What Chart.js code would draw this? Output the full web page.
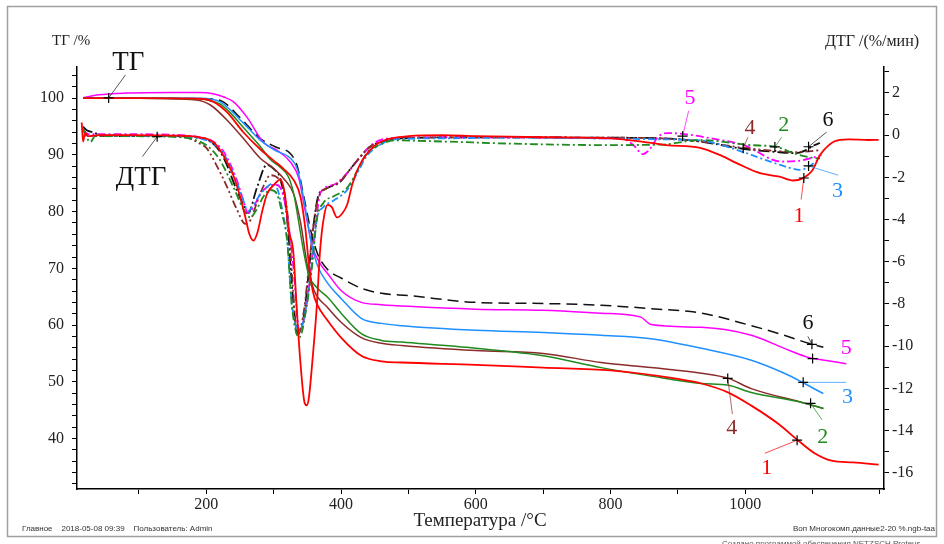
<!DOCTYPE html>
<html><head><meta charset="utf-8">
<script src="https://cdn.jsdelivr.net/npm/chart.js@4.4.1/dist/chart.umd.min.js"></script>
<style>html,body{margin:0;padding:0;background:#fff}#wrap{width:944px;height:544px;position:relative}</style>
</head><body><div id="wrap"><canvas id="c" width="944" height="544"></canvas></div>
<script>
// ---- TG (left axis, %) ----
const tgT1 = [17,100,190,210,231,255,280,300,315,330,340,347,352,358,365,380,400,430,460,490,600,700,800,900,935,975,1009,1049,1079,1103,1128,1160,1198];
const tgV1 = [100,100,99.9,99.4,97.5,94.0,91.0,89.0,87.5,85.5,82.5,77,71,66,63.5,60.8,57.8,54.6,53.6,53.4,53.0,52.5,52.0,50.5,49.7,48.1,45.8,42.6,39.6,37.4,36.1,35.8,35.4];
const tgT2 = [17,100,190,205,220,235,250,265,280,295,310,322,330,335,345,352,365,380,400,430,460,490,600,700,786,860,935,975,1009,1083,1116];
const tgV2 = [100,100,99.9,99.6,99.0,97.5,95.5,93.5,91.5,89.2,87.8,86.1,83,79.7,72.6,68.8,66.5,64.9,62.1,58.5,57.3,57.0,55.9,54.6,52.5,51.0,49.7,49.4,48.1,46.4,45.3];
const tgT3 = [17,100,190,220,235,250,265,280,302,325,335,345,355,365,380,400,430,460,490,600,700,786,860,935,1009,1058,1088,1116];
const tgV3 = [100.1,100.1,100,99.4,98,96.2,94.4,92.6,90.8,89.4,87.5,82,75,70.5,67.4,64.7,61.2,60.3,59.9,59.1,58.7,58.2,57.6,55.9,53.8,51.5,49.7,47.9];
const tgT4 = [17,100,185,206,235,260,280,300,315,330,340,350,360,380,400,430,460,490,600,700,786,860,935,975,1009,1083,1116];
const tgV4 = [100,100,99.7,98.8,95.6,92.2,89.4,87.6,85.8,83.0,78,70.5,66.1,63.1,60.5,57.8,56.8,56.4,55.5,55.0,53.4,52.5,51.5,50.6,48.8,46.4,45.3];
const tgT5 = [17,40,80,150,190,210,226,240,260,285,305,325,337,347,357,368,380,400,430,460,500,600,700,786,845,860,935,1009,1058,1094,1118,1150];
const tgV5 = [100.1,100.6,100.9,101.0,101.0,100.8,100.2,99.4,96.7,92.2,90.8,88.7,86,80,74,71,69.1,66.1,64.0,63.6,63.3,62.8,62.6,62.1,61.4,60.1,59.6,58.2,55.9,54.3,53.8,53.2];
const tgT6 = [17,100,200,221,250,280,303,325,335,345,355,365,380,400,430,460,500,600,700,786,860,935,1009,1058,1094,1116];
const tgV6 = [100,100,99.9,99.6,96.6,92.9,91.4,90.2,88,82.5,76.7,72.6,69.8,68.3,66.5,65.6,65.2,64.0,63.8,63.5,62.9,62.1,59.9,58.2,56.8,56.1];

// ---- DTG (right axis, %/min) ----
const dtgT1 = [15,17,20,25,40,80,150,190,211,226,240,250,258,264,270,276,283,290,302,310,317,322,329,334,339,346,349,352,358,364,369,375,380,386,394,402,409,417,428,448,468,500,550,600,700,800,860,883,933,963,992,1022,1051,1071,1085,1100,1110,1117,1132,1153,1183,1198];
const dtgV1 = [0.6,-0.3,0.1,-0.05,0,0,-0.02,-0.1,-0.35,-1.0,-1.9,-2.9,-3.9,-4.7,-5.0,-4.6,-3.6,-2.8,-2.3,-2.1,-2.9,-4.5,-5.5,-8.1,-10.5,-12.7,-12.8,-12.5,-10.5,-8.1,-5.4,-3.8,-3.3,-3.4,-3.9,-3.7,-3.3,-2.3,-1.4,-0.55,-0.2,-0.05,0.0,-0.05,-0.1,-0.15,-0.37,-0.47,-0.6,-0.95,-1.4,-1.8,-1.97,-2.15,-2.05,-1.65,-1.0,-0.7,-0.3,-0.2,-0.23,-0.22];
const dtgT2 = [17,22,28,35,80,150,190,205,220,240,255,265,275,285,295,305,313,320,327,338,349,357,364,374,389,409,424,438,458,480,550,650,786,875,933,1007,1047,1071,1101,1111];
const dtgV2 = [0.3,-0.1,-0.32,-0.05,-0.05,-0.08,-0.3,-0.6,-1.17,-2.45,-3.5,-3.9,-3.5,-2.9,-2.6,-2.8,-3.8,-5.0,-8.1,-9.6,-8.1,-6.2,-4.0,-3.2,-2.9,-2.5,-1.7,-0.85,-0.45,-0.25,-0.3,-0.4,-0.47,-0.45,-0.23,-0.47,-0.56,-0.85,-1.08,-1.1];
const dtgT3 = [17,25,40,100,150,190,210,226,245,255,262,270,280,290,298,306,313,320,327,338,349,357,364,374,389,409,424,438,458,480,550,650,786,875,933,997,1032,1066,1081,1096,1111];
const dtgV3 = [0.2,-0.05,0,-0.03,-0.05,-0.15,-0.4,-0.9,-2.2,-3.1,-3.6,-3.3,-2.8,-2.45,-2.3,-2.6,-3.6,-5.0,-8.0,-9.3,-8.0,-6.0,-4.0,-3.4,-3.1,-2.6,-1.8,-1.0,-0.45,-0.2,-0.15,-0.12,-0.15,-0.2,-0.25,-0.8,-1.2,-1.55,-1.65,-1.46,-1.08];
const dtgT4 = [17,25,60,150,175,190,200,213,230,245,258,266,275,285,295,305,315,322,328,335,345,352,359,366,380,399,409,424,443,463,490,600,786,875,933,997,1047,1076,1101,1111];
const dtgV4 = [0.3,-0.05,-0.03,-0.05,-0.15,-0.4,-0.6,-1.3,-2.4,-3.5,-4.2,-4.0,-3.2,-2.4,-1.9,-2.0,-2.6,-4.2,-7.0,-9.5,-8.3,-6.3,-4.3,-3.0,-2.5,-2.2,-1.8,-1.2,-0.55,-0.3,-0.15,-0.1,-0.12,-0.15,-0.3,-0.6,-0.75,-0.8,-0.75,-0.7];
const dtgT5 = [17,25,60,150,190,210,226,245,255,262,270,282,294,302,310,318,325,330,338,349,357,364,369,389,409,428,448,470,550,650,786,820,835,848,860,870,885,910,940,1000,1053,1083,1113];
const dtgV5 = [0.25,0.05,0.05,0.02,-0.1,-0.3,-0.8,-2.1,-3.1,-3.7,-3.4,-2.7,-2.4,-2.35,-2.5,-3.4,-5.0,-6.5,-9.3,-8.0,-5.8,-3.8,-2.75,-2.35,-1.8,-1.05,-0.4,-0.15,-0.1,-0.1,-0.15,-0.2,-0.5,-0.9,-0.6,-0.1,0.1,0.05,-0.1,-0.5,-1.25,-1.2,-0.95];
const dtgT6 = [17,22,30,50,150,190,210,226,245,255,262,275,290,300,310,320,328,336,345,352,359,366,374,399,409,424,443,463,488,600,786,875,933,997,1047,1076,1091,1101,1111];
const dtgV6 = [0.4,0.25,0.15,-0.03,-0.05,-0.12,-0.4,-1.1,-2.6,-3.3,-3.7,-2.5,-1.4,-1.6,-2.1,-4.0,-7.5,-9.4,-8.5,-6.5,-4.3,-2.9,-2.6,-2.2,-1.8,-1.2,-0.55,-0.3,-0.15,-0.1,-0.12,-0.15,-0.3,-0.65,-0.8,-0.85,-0.7,-0.5,-0.37];

// ---- axis ticks and tick labels ----
const xTicks = [100,200,300,400,500,600,700,800,900,1000,1100,1200];
const xTickLabels = [200,400,600,800,1000];
const yLeftTicks = [32,34,36,38,40,42,44,46,48,50,52,54,56,58,60,62,64,66,68,70,72,74,76,78,80,82,84,86,88,90,92,94,96,98,100,102,104];
const yLeftTickLabels = [40,50,60,70,80,90,100];
const yRightTicks = [-16,-15,-14,-13,-12,-11,-10,-9,-8,-7,-6,-5,-4,-3,-2,-1,0,1,2,3];
const yRightTickLabels = [-16,-14,-12,-10,-8,-6,-4,-2,0,2];

const COL = {r:'#ff0000', g:'#1f8a1f', b:'#1e90ff', br:'#8b2b2b', m:'#ff00ff', k:'#111111'};
const SERIF = "'Liberation Serif','DejaVu Serif',serif";

function pts(T, V){ return T.map((t,i)=>({x:t, y:V[i]})); }
function ds(label, T, V, color, axis, dash, w){
  return {label, data: pts(T,V), borderColor: color, backgroundColor: color, yAxisID: axis,
    borderDash: dash, borderWidth: w, pointRadius: 0, cubicInterpolationMode: 'monotone', fill:false};
}

const datasets = [
  ds('ТГ 1', tgT1, tgV1, COL.r, 'yL', [], 1.8),
  ds('ДТГ 1', dtgT1, dtgV1, COL.r, 'yR', [], 1.8),
  ds('ТГ 2', tgT2, tgV2, COL.g, 'yL', [], 1.5),
  ds('ДТГ 2', dtgT2, dtgV2, COL.g, 'yR', [8,3,2,3], 1.8),
  ds('ТГ 3', tgT3, tgV3, COL.b, 'yL', [], 1.5),
  ds('ДТГ 3', dtgT3, dtgV3, COL.b, 'yR', [7,3,2,3], 1.8),
  ds('ТГ 4', tgT4, tgV4, COL.br, 'yL', [], 1.5),
  ds('ДТГ 4', dtgT4, dtgV4, COL.br, 'yR', [8,3,2,3,2,3], 1.8),
  ds('ТГ 5', tgT5, tgV5, COL.m, 'yL', [], 1.5),
  ds('ДТГ 5', dtgT5, dtgV5, COL.m, 'yR', [8,3,2,3], 1.8),
  ds('ТГ 6', tgT6, tgV6, COL.k, 'yL', [11,6], 1.5),
  ds('ДТГ 6', dtgT6, dtgV6, COL.k, 'yR', [11,3,2,3], 1.8)
];

// annotations in data units: [text, color, axis, textT, textV, leaderFrom(T,V), marker(T,V), fontSize]
const notes = [
  ['ТГ', '#111', 'yL', 84, 106.3, [80,104.1], [55,100.05], 27],
  ['ДТГ', '#111', 'yL', 103, 86.0, [105,89.7], [127,93.2], 27],
  ['5', COL.m, 'yR', 918, 1.75, [916,1.15], [907,-0.05], 22],
  ['4', COL.br, 'yR', 1007, 0.35, [1004,-0.1], [997,-0.62], 22],
  ['2', COL.g, 'yR', 1057, 0.45, [1054,-0.1], [1044,-0.56], 22],
  ['6', COL.k, 'yR', 1123, 0.7, [1121,0.15], [1094,-0.55], 22],
  ['3', COL.b, 'yR', 1137, -2.65, [1138,-1.9], [1094,-1.46], 22],
  ['1', COL.r, 'yR', 1080, -3.85, [1083,-3.05], [1087,-2.03], 22],
  ['6', COL.k, 'yL', 1093, 60.4, [1093,58.0], [1099,56.6], 22],
  ['5', COL.m, 'yL', 1150, 55.9, null, [1100,54.1], 22],
  ['3', COL.b, 'yL', 1152, 47.2, [1150,49.9], [1086,49.9], 22],
  ['2', COL.g, 'yL', 1115, 40.2, [1114,43.3], [1097,46.2], 22],
  ['4', COL.br, 'yL', 980, 41.8, [981,44.3], [974,50.6], 22],
  ['1', COL.r, 'yL', 1032, 34.8, [1029,37.4], [1077,39.7], 22]
];

const deco = {
  id: 'deco',
  beforeDraw(chart){
    const c = chart.ctx;
    c.save(); c.fillStyle = '#fff'; c.fillRect(0,0,chart.width,chart.height); c.restore();
  },
  afterDraw(chart){
    const c = chart.ctx, x = chart.scales.x;
    c.save();
    c.strokeStyle = '#a0a0a0'; c.lineWidth = 1.5;
    c.strokeRect(7.5, 6.5, 929, 530);
    c.fillStyle = '#222'; c.textBaseline = 'alphabetic';
    c.font = '15px ' + SERIF; c.textAlign = 'left';
    c.fillText('ТГ /%', 52, 45);
    c.font = '16px ' + SERIF;
    c.fillText('ДТГ /(%/мин)', 825, 46);
    c.font = '19px ' + SERIF; c.textAlign = 'center';
    c.fillText('Температура /°C', 480, 526);
    c.font = '8px "Liberation Sans", Arial, sans-serif'; c.fillStyle = '#333';
    c.textAlign = 'left';
    c.fillText('Главное    2018-05-08 09:39    Пользователь: Admin', 22, 531);
    c.textAlign = 'right';
    c.fillText('Воп Многокомп.данные2-20 %.ngb-taa', 935, 531);
    c.textAlign = 'left'; c.fillStyle = '#555';
    c.fillText('Создано программой обеспечения NETZSCH Proteus', 722, 546);
    notes.forEach(n => {
      const [txt, col, ax, tT, tV, lf, lt, fs] = n;
      const y = chart.scales[ax];
      if (lf) {
        c.strokeStyle = col; c.globalAlpha = 0.7; c.lineWidth = 1; c.setLineDash([]);
        c.beginPath(); c.moveTo(x.getPixelForValue(lf[0]), y.getPixelForValue(lf[1]));
        c.lineTo(x.getPixelForValue(lt[0]), y.getPixelForValue(lt[1])); c.stroke();
        c.globalAlpha = 1;
      }
      const mx = x.getPixelForValue(lt[0]), my = y.getPixelForValue(lt[1]);
      c.strokeStyle = '#000'; c.lineWidth = 1.2;
      c.beginPath(); c.moveTo(mx-5,my); c.lineTo(mx+5,my); c.moveTo(mx,my-5); c.lineTo(mx,my+5); c.stroke();
      c.fillStyle = col; c.font = fs + 'px ' + SERIF; c.textAlign = 'center'; c.textBaseline = 'middle';
      c.fillText(txt, x.getPixelForValue(tT), y.getPixelForValue(tV));
    });
    c.restore();
  }
};

const tickFont = {family: SERIF, size: 16};
const setTicks = arr => (s => { s.ticks = arr.map(v => ({value: v})); });
new Chart(document.getElementById('c'), {
  type: 'line',
  data: { datasets },
  options: {
    responsive: false, animation: false, events: [],
    layout: { padding: { top: 67, left: 0, right: 0, bottom: 0 } },
    plugins: { legend: {display:false}, tooltip: {enabled:false}, title: {display:false} },
    scales: {
      x: {
        type: 'linear', min: 8, max: 1206,
        afterBuildTicks: setTicks(xTicks),
        ticks: { autoSkip: false, maxRotation: 0, padding: 1, color: '#222', font: tickFont,
          callback: v => xTickLabels.includes(v) ? String(v) : '' },
        grid: { drawOnChartArea: false, tickLength: 5, color: '#000', tickWidth: 1 },
        border: { display: true, color: '#000', width: 1.5 },
        afterFit: s => { s.height = 55; }
      },
      yL: {
        type: 'linear', position: 'left', min: 31.1, max: 105.5,
        afterBuildTicks: setTicks(yLeftTicks),
        ticks: { autoSkip: false, padding: 8, color: '#222', font: tickFont,
          callback: v => yLeftTickLabels.includes(v) ? String(v) : '' },
        grid: { drawOnChartArea: false, tickLength: 5, color: '#000' },
        border: { display: true, color: '#000', width: 1.5 },
        afterFit: s => { s.width = 77; }
      },
      yR: {
        type: 'linear', position: 'right', min: -16.77, max: 3.23,
        afterBuildTicks: setTicks(yRightTicks),
        ticks: { autoSkip: false, padding: 3, color: '#222', font: tickFont,
          callback: v => yRightTickLabels.includes(v) ? String(v) : '' },
        grid: { drawOnChartArea: false, tickLength: 5, color: '#000' },
        border: { display: true, color: '#000', width: 1.5 },
        afterFit: s => { s.width = 60; }
      }
    }
  },
  plugins: [deco]
});
</script>
</body></html>
